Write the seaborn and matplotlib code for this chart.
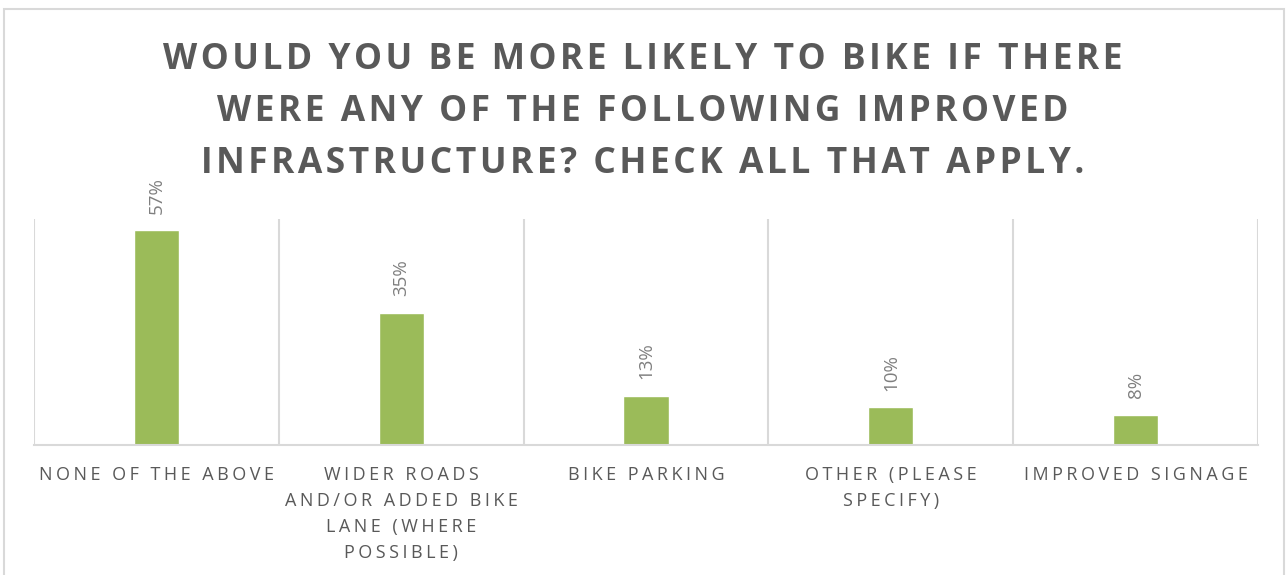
import matplotlib
matplotlib.use("Agg")
import matplotlib.pyplot as plt
import seaborn as sns
import pandas as pd
from matplotlib.patches import Rectangle

categories = [
    "NONE OF THE ABOVE",
    "WIDER ROADS\nAND/OR ADDED BIKE\nLANE (WHERE\nPOSSIBLE)",
    "BIKE PARKING",
    "OTHER (PLEASE\nSPECIFY)",
    "IMPROVED SIGNAGE",
]
values = [57, 35, 13, 10, 8]
title_lines = [
    "WOULD YOU BE MORE LIKELY TO BIKE IF THERE",
    "WERE ANY OF THE FOLLOWING IMPROVED",
    "INFRASTRUCTURE? CHECK ALL THAT APPLY.",
]

HAIR = "\u200a"


def tracked(s, n=1):
    """Spread letters apart with hair spaces."""
    sep = HAIR * n
    return "\n".join(sep.join(line) for line in s.split("\n"))


sns.set_theme(style="white")
plt.rcParams["font.family"] = ["Open Sans", "DejaVu Sans"]

df = pd.DataFrame({"category": categories, "value": values})

fig = plt.figure(figsize=(12.86, 5.75), dpi=100)
W, H = 1286, 575
ax = fig.add_axes([34 / W, (H - 445) / H, (1258 - 34) / W, (445 - 219) / H])

sns.barplot(data=df, x="category", y="value", color="#9BBB59", width=0.185,
            saturation=1, ax=ax)

ax.set_ylim(0, 60)
ax.set_xlim(-0.5, len(categories) - 0.5)
ax.set_yticks([])
ax.set_xlabel("")
ax.set_ylabel("")

# vertical separators between categories
for b in [i - 0.5 for i in range(len(categories) + 1)]:
    ax.axvline(b, color="#D9D9D9", lw=1.5, zorder=0)
for s in ["top", "left", "right"]:
    ax.spines[s].set_visible(False)
ax.spines["bottom"].set_color("#D9D9D9")
ax.spines["bottom"].set_linewidth(1.5)

ax.set_xticks(range(len(categories)))
ax.set_xticklabels([tracked(c, 2) for c in categories], fontsize=13,
                   color="#595959", linespacing=1.58)
ax.tick_params(axis="x", length=0, pad=15)

for i, v in enumerate(values):
    ax.annotate(f"{v}%", (i, v), xytext=(0, 12), textcoords="offset points",
                rotation=90, ha="center", va="bottom", fontsize=13.5,
                color="#7F7F7F")

fig.text(0.5, 1 - 112 / H, tracked("\n".join(title_lines), 1), ha="center",
         va="center", fontsize=25.5, fontweight="bold", color="#595959",
         linespacing=1.58)

fig.patches.append(Rectangle((4 / W, -0.01), (1284 - 4) / W, (H - 9) / H + 0.01,
                             transform=fig.transFigure, fill=False,
                             edgecolor="#D9D9D9", lw=1.5))

fig.savefig("out.png", dpi=100, facecolor="white")
